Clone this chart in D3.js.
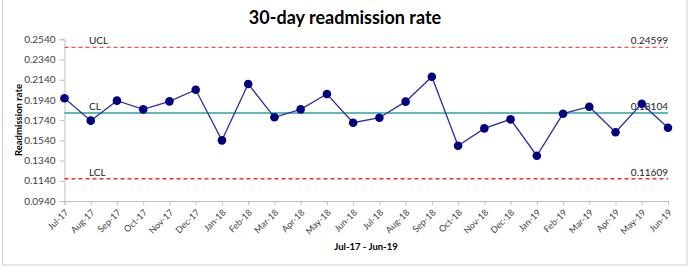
<!DOCTYPE html>
<html><head><meta charset="utf-8">
<script src="https://cdn.jsdelivr.net/npm/d3@7"></script>
<style>body{margin:0;background:#fff}svg{display:block}text{font-family:Lato,"Liberation Sans",sans-serif}</style>
</head><body><svg id="c" width="689" height="267"></svg>
<script>
const months = ["Jul-17","Aug-17","Sep-17","Oct-17","Nov-17","Dec-17","Jan-18","Feb-18","Mar-18","Apr-18","May-18","Jun-18","Jul-18","Aug-18","Sep-18","Oct-18","Nov-18","Dec-18","Jan-19","Feb-19","Mar-19","Apr-19","May-19","Jun-19"];
const rates = [0.1956,0.1735,0.1933,0.1847,0.1926,0.2041,0.1540,0.2098,0.1768,0.1847,0.1999,0.1715,0.1764,0.1923,0.2170,0.1487,0.1659,0.1748,0.1388,0.1804,0.1873,0.1620,0.1903,0.1665];
const yTicks = [0.0940,0.1140,0.1340,0.1540,0.1740,0.1940,0.2140,0.2340,0.2540];
const limits = [{name:"UCL", value:0.24599},{name:"CL", value:0.18104},{name:"LCL", value:0.11609}];

const svg = d3.select("#c");
svg.append("rect").attr("x",2.5).attr("y",-2).attr("width",684.5).attr("height",267).attr("fill","none").attr("stroke","#d0d0d0");

const x = d3.scalePoint().domain(months).range([64.5,668]);
const y = d3.scaleLinear().domain([0.094,0.254]).range([201,39.3]);

svg.append("text").attr("x",345).attr("y",24).attr("text-anchor","middle").attr("font-weight","bold").attr("font-size",18).attr("fill","#000").text("30-day readmission rate");

const ya = svg.append("g").attr("transform","translate(64.5,0)").call(d3.axisLeft(y).tickValues(yTicks).tickFormat(d3.format(".4f")).tickSizeOuter(0).tickSize(5).tickPadding(4));
ya.select(".domain").attr("stroke","#bfbfbf");
ya.selectAll(".tick line").attr("stroke","#bfbfbf");
ya.selectAll(".tick text").attr("font-size",10).attr("fill","#404040").attr("font-family","Lato");

const xa = svg.append("g").attr("transform","translate(0,201)").call(d3.axisBottom(x).tickSizeOuter(0).tickSize(4));
xa.select(".domain").attr("stroke","#bfbfbf");
xa.selectAll(".tick line").attr("stroke","#bfbfbf");
xa.selectAll(".tick text").attr("font-size",9).attr("fill","#404040").attr("font-family","Lato")
  .attr("text-anchor","end").attr("dy",null).attr("y",0)
  .attr("transform","translate(4,12) rotate(-45)");

const colors = {UCL:"#ff4d4d", CL:"#2aa3a3", LCL:"#e83030"};
limits.forEach(l=>{
  svg.append("line").attr("x1",64.5).attr("x2",668).attr("y1",y(l.value)).attr("y2",y(l.value))
    .attr("stroke",colors[l.name]).attr("stroke-width",1.4).attr("stroke-dasharray",l.name==="CL"?null:"4,3");
  svg.append("text").attr("x",89).attr("y",y(l.value)-3).attr("font-size",10).attr("fill","#222").text(l.name);
  svg.append("text").attr("x",668).attr("y",y(l.value)-3).attr("text-anchor","end").attr("font-size",10).attr("fill","#222").text(l.value.toFixed(5));
});

const line = d3.line().x((d,i)=>x(months[i])).y(d=>y(d));
svg.append("path").datum(rates).attr("d",line).attr("fill","none").attr("stroke","#2e2e9e").attr("stroke-width",1.3);
svg.selectAll("circle.p").data(rates).enter().append("circle").attr("class","p")
  .attr("cx",(d,i)=>x(months[i])).attr("cy",d=>y(d)).attr("r",4.3).attr("fill","#000080");

svg.append("text").attr("transform","translate(22,120) rotate(-90)").attr("text-anchor","middle").attr("font-weight","bold").attr("font-size",9.5).attr("fill","#000").text("Readmission rate");
svg.append("text").attr("x",366).attr("y",250).attr("text-anchor","middle").attr("font-weight","bold").attr("font-size",9.5).attr("fill","#000").text("Jul-17 - Jun-19");
</script></body></html>
